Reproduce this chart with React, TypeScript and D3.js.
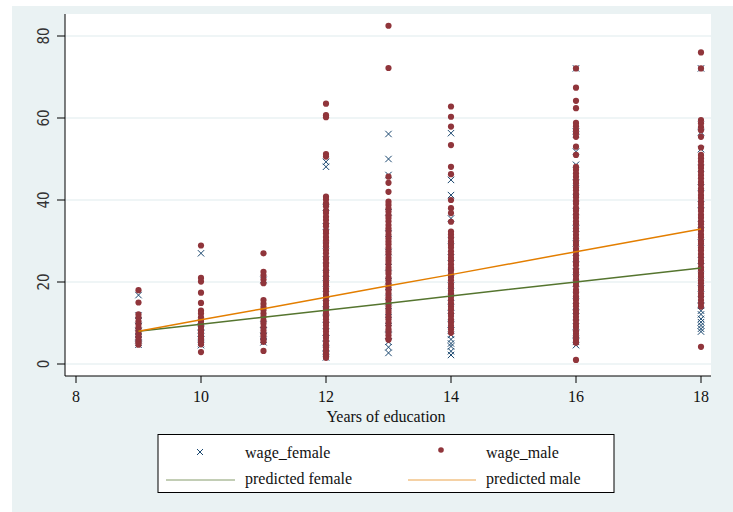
import * as d3 from 'd3';

// Years of schooling shown on the x axis
const educLevels = [9, 10, 11, 12, 13, 14, 16, 18];

// hourly wages, one list per education level (order follows educLevels)
const femaleWages: number[][] = [
  [16.8, 11.8, 10.6, 9.3, 8.1, 7.4, 6.5, 5.8, 5.2, 4.7],
  [27.0, 10.2, 9.1, 8.3, 7.4, 6.6, 5.9, 5.1, 4.6],
  [20.5, 9.6, 8.1, 6.9, 5.9, 5.3],
  [49.3, 48.1, 38.2, 33.5, 29.0, 25.4, 22.1, 19.6, 17.0, 14.8, 12.9, 11.0, 9.3, 7.8, 6.2, 4.9, 3.8, 2.5, 1.6],
  [56.1, 50.0, 46.1, 37.0, 31.8, 27.3, 23.6, 20.2, 17.5, 15.1, 12.8, 10.6, 8.7, 6.9, 5.4, 4.1, 2.7],
  [56.3, 44.9, 41.2, 35.5, 30.2, 26.0, 22.4, 19.1, 16.3, 13.8, 11.5, 9.6, 8.2, 7.1, 6.0, 5.0, 4.3, 3.1, 2.2],
  [72.1, 56.7, 55.9, 51.8, 48.6, 44.2, 40.5, 37.1, 33.0, 29.4, 25.8, 22.6, 19.7, 16.8, 14.1, 11.5, 9.2, 7.3, 6.1, 5.4, 4.6],
  [72.1, 58.3, 56.5, 52.4, 47.8, 43.0, 38.9, 34.1, 29.6, 25.3, 21.7, 18.4, 15.6, 14.2, 13.0, 12.1, 11.0, 10.2, 9.4, 8.6, 7.9],
];

const maleWages: number[][] = [
  [18.0, 15.0, 12.1, 11.3, 10.4, 9.7, 8.9, 8.2, 7.6, 6.9, 6.4, 5.7, 5.2, 4.7],
  [28.9, 21.0, 20.1, 17.4, 14.9, 13.0, 12.3, 11.4, 10.5, 9.8, 9.1, 8.3, 7.7, 6.9, 6.3, 5.5, 4.8, 2.9],
  [27.0, 22.5, 21.6, 20.6, 19.7, 15.6, 14.7, 13.9, 13.2, 12.3, 11.5, 10.6, 9.9, 9.0, 8.2, 7.4, 6.8, 6.0, 5.4, 3.2],
  [63.5, 60.7, 60.2, 51.2, 50.6, 40.8, 40.1, 39.2, 38.5, 37.4, 36.8, 35.9, 35.1, 34.2, 33.6, 32.5, 31.9, 31.0,
    30.2, 29.4, 28.7, 27.8, 27.0, 26.1, 25.5, 24.6, 23.9, 23.0, 22.3, 21.5, 20.8, 20.0, 19.3, 18.4, 17.8, 16.9,
    16.2, 15.4, 14.7, 13.9, 13.1, 12.4, 11.6, 10.9, 10.1, 9.4, 8.6, 7.9, 7.1, 6.4, 5.6, 4.8, 4.1, 3.4, 2.6, 2.0, 1.5],
  [82.5, 72.2, 45.7, 44.2, 42.0, 39.6, 38.8, 37.9, 37.2, 36.3, 35.6, 34.8, 33.9, 33.1, 32.4, 31.5, 30.7, 29.9,
    29.2, 28.3, 27.5, 26.8, 25.9, 25.2, 24.4, 23.5, 22.7, 22.0, 21.1, 20.4, 19.6, 18.7, 18.0, 17.2, 16.3, 15.6,
    14.8, 14.0, 13.2, 12.5, 11.6, 10.9, 10.1, 9.3, 8.5, 7.8, 7.0, 6.2, 5.9],
  [62.8, 60.3, 57.9, 53.4, 48.1, 46.3, 40.0, 38.0, 36.8, 34.7, 32.3, 31.6, 30.8, 29.9, 29.1, 28.4, 27.5, 26.7,
    25.9, 25.2, 24.3, 23.5, 22.8, 21.9, 21.2, 20.4, 19.5, 18.8, 17.9, 17.2, 16.4, 15.6, 14.8, 14.0, 13.3, 12.4,
    11.7, 10.8, 10.1, 9.3, 8.5, 7.6],
  [72.1, 67.4, 64.2, 62.4, 58.8, 58.0, 57.1, 56.3, 55.4, 53.0, 51.0, 48.1, 47.4, 46.5, 45.7, 44.8, 44.1, 43.1,
    42.4, 41.5, 40.7, 39.8, 39.1, 38.1, 37.4, 36.5, 35.7, 34.8, 34.1, 33.1, 32.4, 31.5, 30.7, 29.8, 29.1, 28.1,
    27.4, 26.5, 25.7, 24.8, 24.1, 23.1, 22.4, 21.5, 20.7, 19.8, 19.1, 18.1, 17.4, 16.5, 15.7, 14.8, 14.1, 13.1,
    12.4, 11.5, 10.7, 9.8, 9.1, 8.1, 7.4, 6.6, 5.9, 5.2, 1.0],
  [76.0, 72.1, 59.5, 58.7, 57.8, 57.0, 55.4, 52.8, 51.0, 50.2, 49.4, 48.5, 47.8, 46.9, 46.1, 45.3, 44.4, 43.7,
    42.8, 42.1, 41.2, 40.5, 39.6, 38.9, 38.0, 37.3, 36.4, 35.7, 34.8, 34.1, 33.2, 32.5, 31.6, 30.9, 30.0, 29.3,
    28.4, 27.7, 26.8, 26.1, 25.2, 24.5, 23.6, 22.9, 22.0, 21.3, 20.4, 19.7, 18.8, 18.1, 17.2, 16.5, 15.6, 14.8,
    14.0, 4.2],
];

// fitted values from the regressions, at each education level
const predFemale = [8.0, 9.7, 11.4, 13.1, 14.8, 16.6, 20.0, 23.4];
const predMale = [8.0, 10.8, 13.5, 16.3, 19.1, 21.8, 27.4, 32.9];

const xTicks = [8, 10, 12, 14, 16, 18];
const yTicks = [0, 20, 40, 60, 80];

const BG = '#eaf2f3';
const NAVY = '#1a476f';
const MAROON = '#90353b';
const GREEN = '#55752f';
const ORANGE = '#e37e00';
const SERIF = "'Liberation Serif', 'Times New Roman', serif";
const SANS = "'Liberation Sans Narrow', 'DejaVu Sans Condensed', sans-serif";

function Cross({ x, y, s = 3 }: { x: number; y: number; s?: number }) {
  return (
    <path
      d={`M${x - s},${y - s}L${x + s},${y + s}M${x - s},${y + s}L${x + s},${y - s}`}
      stroke={NAVY}
      strokeWidth={1}
      fill="none"
    />
  );
}

export default function App() {
  const width = 733;
  const height = 512;
  const plot = { left: 65, right: 711, top: 14, bottom: 376 };

  const x = d3.scaleLinear().domain([8, 18]).range([76, 701]);
  const y = d3.scaleLinear().domain([0, 80]).range([364, 36]);

  const femalePts = educLevels.flatMap((e, i) => femaleWages[i].map((w) => ({ e, w })));
  const malePts = educLevels.flatMap((e, i) => maleWages[i].map((w) => ({ e, w })));

  const line = d3
    .line<number>()
    .x((_, i) => x(educLevels[i]))
    .y((d) => y(d));

  const legend = { x: 158, y: 434.5, w: 456, h: 58 };

  return (
    <div style={{ position: 'absolute', left: 0, top: 0 }}>
      <svg width={width} height={height} style={{ display: 'block' }}>
        <rect x={0} y={0} width={width} height={height} fill="#fff" />
        <rect x={12} y={6} width={width - 12} height={height - 6} fill={BG} />
        <rect x={plot.left} y={plot.top} width={plot.right - plot.left} height={plot.bottom - plot.top} fill="#fff" />

        {/* grid */}
        {yTicks.map((t) => (
          <line key={t} x1={plot.left} x2={plot.right} y1={y(t)} y2={y(t)} stroke={BG} strokeWidth={1.5} />
        ))}

        {/* scatter: female first, male on top */}
        {femalePts.map((p, i) => (
          <Cross key={'f' + i} x={x(p.e)} y={y(p.w)} s={3.2} />
        ))}
        {malePts.map((p, i) => (
          <circle key={'m' + i} cx={x(p.e)} cy={y(p.w)} r={3.1} fill={MAROON} />
        ))}

        {/* fitted lines */}
        <path d={line(predFemale) || ''} fill="none" stroke={GREEN} strokeWidth={1.5} />
        <path d={line(predMale) || ''} fill="none" stroke={ORANGE} strokeWidth={1.5} />

        {/* axes */}
        <line x1={plot.left} x2={plot.left} y1={plot.top} y2={plot.bottom} stroke="#000" strokeWidth={1} />
        <line x1={plot.left} x2={plot.right} y1={plot.bottom} y2={plot.bottom} stroke="#000" strokeWidth={1} />
        {yTicks.map((t) => (
          <g key={t}>
            <line x1={plot.left - 8} x2={plot.left} y1={y(t)} y2={y(t)} stroke="#000" />
            <text
              transform={`translate(${49},${y(t)}) rotate(-90)`}
              textAnchor="middle"
              fontFamily={SANS}
              fontSize={15}
              fill="#333"
            >
              {t}
            </text>
          </g>
        ))}
        {xTicks.map((t) => (
          <g key={t}>
            <line x1={x(t)} x2={x(t)} y1={plot.bottom} y2={plot.bottom + 7} stroke="#000" />
            <text x={x(t)} y={402} textAnchor="middle" fontFamily={SERIF} fontSize={16} fill="#111">
              {t}
            </text>
          </g>
        ))}
        <text x={386} y={422} textAnchor="middle" fontFamily={SERIF} fontSize={16} fill="#111">
          Years of education
        </text>

        {/* legend */}
        <rect x={legend.x} y={legend.y} width={legend.w} height={legend.h} fill="#fff" stroke="#000" strokeWidth={1} />
        <Cross x={200} y={452} s={3} />
        <circle cx={441} cy={450} r={2.8} fill={MAROON} />
        <line x1={166} x2={235} y1={480} y2={480} stroke={GREEN} strokeWidth={1} opacity={0.7} />
        <line x1={408} x2={476} y1={480} y2={480} stroke={ORANGE} strokeWidth={1} opacity={0.7} />
        <g fontFamily={SERIF} fontSize={16} fill="#111">
          <text x={245} y={458}>wage_female</text>
          <text x={486} y={458}>wage_male</text>
          <text x={245} y={484}>predicted female</text>
          <text x={486} y={484}>predicted male</text>
        </g>
      </svg>
    </div>
  );
}
